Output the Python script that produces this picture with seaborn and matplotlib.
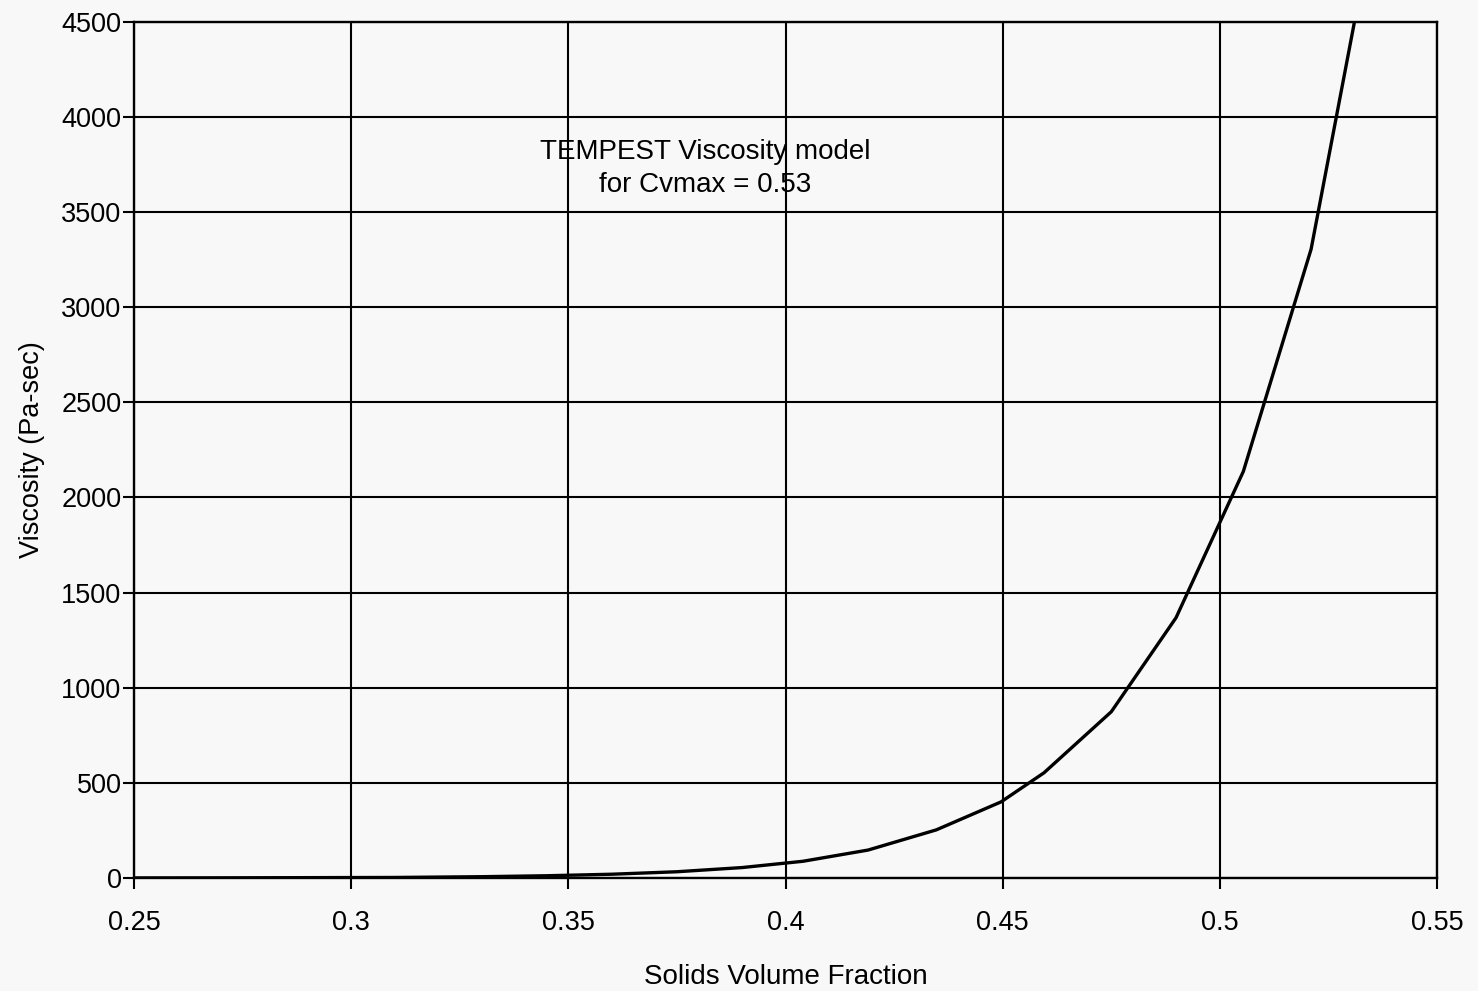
import matplotlib
matplotlib.use("Agg")
import matplotlib.pyplot as plt
import seaborn as sns
import pandas as pd

# TEMPEST viscosity model, Cvmax = 0.53
solids_fraction = [0.25, 0.27, 0.29, 0.31, 0.33, 0.345, 0.36, 0.375, 0.39,
                   0.404, 0.419, 0.4347, 0.4496, 0.4595, 0.475, 0.4899,
                   0.5054, 0.521, 0.536]
viscosity = [0.5, 1, 2, 3, 7, 12, 20, 33, 55,
             88, 147, 253, 400, 553, 874, 1368,
             2137, 3305, 5100]

x_ticks = [0.25, 0.30, 0.35, 0.40, 0.45, 0.50, 0.55]
x_tick_labels = ["0.25", "0.3", "0.35", "0.4", "0.45", "0.5", "0.55"]
y_ticks = [0, 500, 1000, 1500, 2000, 2500, 3000, 3500, 4000, 4500]
y_tick_labels = [str(v) for v in y_ticks]

df = pd.DataFrame({"Cv": solids_fraction, "mu": viscosity})

sns.set_theme(style="white")
plt.rcParams["font.family"] = ["Liberation Sans", "DejaVu Sans"]

bg = "#f8f8f8"
fig = plt.figure(figsize=(14.78, 9.91), dpi=100, facecolor=bg)
ax = fig.add_axes([0.0907, 0.114, 0.8816, 0.864])
ax.set_facecolor(bg)

sns.lineplot(data=df, x="Cv", y="mu", ax=ax, color="black", linewidth=2.4,
             clip_on=True, zorder=3)

ax.set_xlim(0.25, 0.55)
ax.set_ylim(0, 4500)
ax.set_xticks(x_ticks)
ax.set_xticklabels(x_tick_labels)
ax.set_yticks(y_ticks)
ax.set_yticklabels(y_tick_labels)

ax.grid(True, color="black", linewidth=1.5, zorder=1)
for side in ["left", "right", "top", "bottom"]:
    ax.spines[side].set_visible(True)
    ax.spines[side].set_color("black")
    ax.spines[side].set_linewidth(1.7)

ax.tick_params(axis="both", which="major", direction="out", length=8,
               width=1.5, color="black", labelsize=19.5, labelcolor="black",
               left=True, bottom=True)
ax.tick_params(axis="x", pad=15)
ax.tick_params(axis="y", pad=1)

ax.set_xlabel("Solids Volume Fraction", fontsize=20, color="black", labelpad=20)
ax.set_ylabel("Viscosity (Pa-sec)", fontsize=19.5, color="black", labelpad=12)

ax.text(0.3815, 3730, "TEMPEST Viscosity model\nfor Cvmax = 0.53",
        ha="center", va="center", fontsize=20, color="black",
        linespacing=1.35, zorder=4)

fig.savefig("out.png", dpi=100, facecolor=bg)
